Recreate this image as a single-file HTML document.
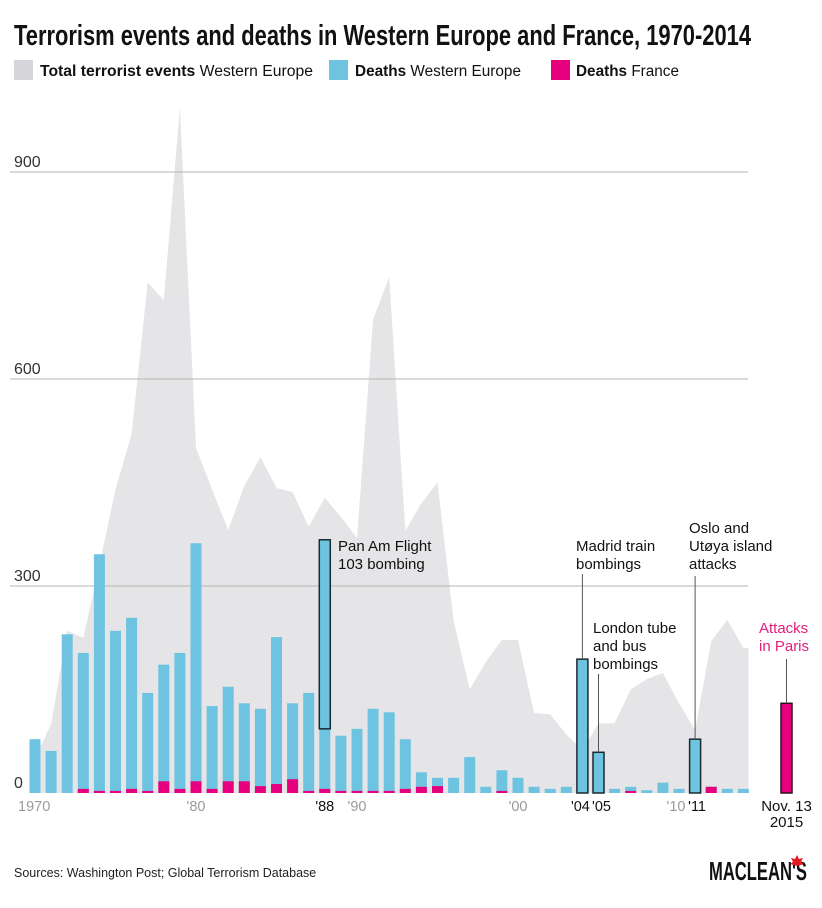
<!DOCTYPE html>
<html><head><meta charset="utf-8"><style>
html,body{margin:0;padding:0;background:#fff;}
svg{display:block;font-family:"Liberation Sans",sans-serif;}
</style></head><body>
<svg id="chart" width="822" height="908" viewBox="0 0 822 908" xmlns="http://www.w3.org/2000/svg">
<text x="14" y="45" font-family="'Liberation Sans Narrow','Liberation Sans',sans-serif" font-weight="bold" font-size="29" textLength="737" lengthAdjust="spacingAndGlyphs" fill="#111">Terrorism events and deaths in Western Europe and France, 1970-2014</text>
<g font-size="15.5">
<rect x="14" y="60" width="19" height="20" fill="#d6d6da"/>
<text x="40" y="76" fill="#111" textLength="273" lengthAdjust="spacingAndGlyphs"><tspan font-weight="bold">Total terrorist events</tspan> Western Europe</text>
<rect x="329" y="60" width="19" height="20" fill="#6ec4e0"/>
<text x="355" y="76" fill="#111" textLength="166" lengthAdjust="spacingAndGlyphs"><tspan font-weight="bold">Deaths</tspan> Western Europe</text>
<rect x="551" y="60" width="19" height="20" fill="#e6007e"/>
<text x="576" y="76" fill="#111" textLength="103" lengthAdjust="spacingAndGlyphs"><tspan font-weight="bold">Deaths</tspan> France</text>
</g>
<g id="plot"></g>
<text x="14" y="877" font-size="12.5" fill="#222">Sources: Washington Post; Global Terrorism Database</text>
<text x="709" y="880" font-family="'Liberation Sans Narrow','Liberation Sans',sans-serif" font-weight="bold" font-size="26" textLength="98" lengthAdjust="spacingAndGlyphs" fill="#111">MACLEAN'S</text>
<polygon points="797,855 799,859 803,858 801,862 804,864 797,866 790,864 793,862 791,858 795,859" fill="#e31b23"/>
</svg>
<script>
const years = [1970,1971,1972,1973,1974,1975,1976,1977,1978,1979,1980,1981,1982,1983,1984,1985,1986,1987,1988,1989,1990,1991,1992,1993,1994,1995,1996,1997,1998,1999,2000,2001,2002,2003,2004,2005,2006,2007,2008,2009,2010,2011,2012,2013,2014];
const events = [50,100,235,225,330,440,520,740,714,994,500,440,381,445,487,442,436,386,428,400,370,686,748,380,420,450,250,150,190,222,222,116,114,85,62,101,101,150,165,174,130,91,220,251,210];
const deathsWE = [78,61,230,203,346,235,254,145,186,203,362,126,154,130,122,226,130,145,367,83,93,122,117,78,30,22,22,52,9,33,22,9,6,9,194,59,6,9,4,15,6,78,9,6,6];
const deathsFR = [0,0,0,6,3,3,6,3,17,6,17,6,17,17,10,13,20,3,6,3,3,3,3,6,9,10,0,0,0,3,0,0,0,0,0,0,0,3,0,0,0,0,9,0,0];
const parisYear = 2015, parisDeaths = 130;
const yTicks = [0,300,600,900];
const xTickLabels = [[1970,"1970",0],[1980,"'80",0],[1988,"'88",1],[1990,"'90",0],[2000,"'00",0],[2004,"'04",1],[2005,"'05",1],[2010,"'10",0],[2011,"'11",1]];
const highlights = [1988,2004,2005,2011];

const NS="http://www.w3.org/2000/svg";
const x = yr => 35 + (yr-1970)*16.1;
const xParis = yr => x(yr) + 27;
const y = v => 793 - v*0.69;
const BW = 11;
const g = document.getElementById('plot');
function mk(tag, attrs){const e=document.createElementNS(NS,tag);for(const k in attrs)e.setAttribute(k,attrs[k]);g.appendChild(e);return e;}

let pts = [[x(years[0])-6, y(0)]];
years.forEach((yr,i)=>pts.push([x(yr), y(events[i])]));
pts.push([x(years[years.length-1])+5, y(events[events.length-1])]);
pts.push([x(years[years.length-1])+5, y(0)]);
const area = mk('polygon',{points:pts.map(p=>p.join(',')).join(' '),fill:'#e5e5e8'});



yTicks.forEach(t=>{
  if(t>0){
    const l=mk('line',{x1:10,x2:748,y1:y(t),y2:y(t),stroke:'#b5b5b5','stroke-width':1});
    
    
  }
  const tx=mk('text',{x:14,y:y(t)-5,'font-size':16,fill:'#333'});
  tx.textContent=t;
  
  
});

years.forEach((yr,i)=>{
  const hl = highlights.includes(yr);
  const b=mk('rect',{x:x(yr)-BW/2,y:y(deathsWE[i]),width:BW,height:deathsWE[i]*0.69,fill:'#6ec4e0'});
  
  
  if(deathsFR[i]>0){
    const f=mk('rect',{x:x(yr)-BW/2,y:y(deathsFR[i]),width:BW,height:deathsFR[i]*0.69,fill:'#e6007e'});
    
    
  }
  if(hl){
    const bottom = yr===1988 ? y(93) : y(0);
    const o=mk('rect',{x:x(yr)-BW/2,y:y(deathsWE[i]),width:BW,height:bottom-y(deathsWE[i]),fill:'none',stroke:'#1a2a30','stroke-width':1.5});
    
    
  }
});
const pb=mk('rect',{x:xParis(parisYear)-BW/2,y:y(parisDeaths),width:BW,height:parisDeaths*0.69,fill:'#e6007e',stroke:'#2a1020','stroke-width':1.5});



const labelShift = {2004:-2,2005:3,2010:-3,2011:2};
xTickLabels.forEach(([yr,lab,dark])=>{
  const t=mk('text',{x:x(yr)+(labelShift[yr]||0),y:811,'font-size':14.5,'text-anchor':yr===1970?'start':'middle',fill:dark?'#111':'#9a9a9a'});
  if(yr===1970) t.setAttribute('x',x(yr)-17);
  t.textContent=lab;
  
  
});
[["Nov. 13",811],["2015",827]].forEach(([s,yy])=>{
  const t=mk('text',{x:xParis(parisYear),y:yy,'font-size':15,'text-anchor':'middle',fill:'#111'});
  t.textContent=s;
  
  
});

function leader(x1,y1,y2){const l=mk('line',{x1:x1,x2:x1,y1:y1,y2:y2,stroke:'#555','stroke-width':1});}
function note(lines,xx,y0,col,name){lines.forEach((s,k)=>{const t=mk('text',{x:xx,y:y0+k*18,'font-size':15,fill:col});t.textContent=s;});}
const di = yr => deathsWE[years.indexOf(yr)];
note(["Pan Am Flight","103 bombing"],338,551,'#111','annotation-panam');
note(["Madrid train","bombings"],576,551,'#111','annotation-madrid');
leader(x(2004),574,y(di(2004)));
note(["London tube","and bus","bombings"],593,633,'#111','annotation-london');
leader(x(2005),674,y(di(2005)));
note(["Oslo and","Utøya island","attacks"],689,533,'#111','annotation-oslo');
leader(x(2011),576,y(di(2011)));
note(["Attacks","in Paris"],759,633,'#e0207e','annotation-paris');
leader(xParis(parisYear),659,y(parisDeaths));
</script>
</body></html>
